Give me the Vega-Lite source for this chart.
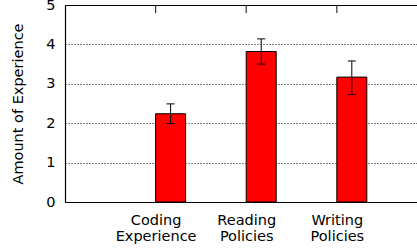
{
  "$schema": "https://vega.github.io/schema/vega-lite/v6.json",
  "autosize": {"type": "none"},
  "padding": {"left": 65, "top": 5, "right": 0, "bottom": 50},
  "width": 352,
  "height": 197,
  "config": {
    "view": {"stroke": null},
    "font": "DejaVu Sans",
    "axis": {
      "labelFont": "DejaVu Sans",
      "titleFont": "DejaVu Sans",
      "labelFontSize": 14.5,
      "titleFontSize": 14.5,
      "titleFontWeight": "normal",
      "labelColor": "#000",
      "titleColor": "#000",
      "domainColor": "#000",
      "domainWidth": 1.2,
      "tickColor": "#000"
    }
  },
  "data": {
    "values": [
      {"idx": 0, "category": "Coding Experience", "mean": 2.24, "lo": 1.99, "hi": 2.49},
      {"idx": 1, "category": "Reading Policies", "mean": 3.82, "lo": 3.5, "hi": 4.14},
      {"idx": 2, "category": "Writing Policies", "mean": 3.17, "lo": 2.73, "hi": 3.58}
    ]
  },
  "layer": [
    {
      "mark": {"type": "bar", "width": 30, "xOffset": 15, "color": "#ff0000", "stroke": "#000", "strokeWidth": 1},
      "encoding": {
        "x": {
          "field": "idx",
          "type": "quantitative",
          "scale": {"domain": [-1, 2.885], "nice": false, "zero": false, "padding": 0},
          "axis": {
            "title": null,
            "values": [0, 1, 2],
            "ticks": false,
            "grid": false,
            "labelPadding": 11,
            "labelLineHeight": 16.5,
            "labelExpr": "datum.value == 0 ? ['Coding', 'Experience'] : datum.value == 1 ? ['Reading', 'Policies'] : ['Writing', 'Policies']"
          }
        },
        "y": {
          "field": "mean",
          "type": "quantitative",
          "scale": {"domain": [0, 5], "nice": false, "padding": 0},
          "axis": {
            "title": "Amount of Experience",
            "values": [0, 1, 2, 3, 4, 5],
            "labelOverlap": false,
            "ticks": false,
            "labelPadding": 10,
            "titlePadding": 20,
            "grid": true,
            "gridColor": "#000",
            "gridDash": [1, 2],
            "gridWidth": 1
          }
        }
      }
    },
    {
      "mark": {"type": "rule", "xOffset": 15, "color": "#000", "strokeWidth": 1},
      "encoding": {
        "x": {"field": "idx", "type": "quantitative", "axis": null},
        "y": {"field": "lo", "type": "quantitative", "axis": null},
        "y2": {"field": "hi"}
      }
    },
    {
      "mark": {"type": "tick", "orient": "horizontal", "xOffset": 15, "size": 8, "thickness": 1, "color": "#000", "opacity": 1},
      "encoding": {
        "x": {
          "field": "idx",
          "type": "quantitative",
          "axis": {
            "orient": "top",
            "labels": false,
            "ticks": false,
            "title": null,
            "grid": false
          }
        },
        "y": {"field": "lo", "type": "quantitative", "axis": null}
      }
    },
    {
      "mark": {"type": "tick", "orient": "horizontal", "xOffset": 15, "size": 8, "thickness": 1, "color": "#000", "opacity": 1},
      "encoding": {
        "y": {"field": "hi", "type": "quantitative", "axis": null},
        "x": {"field": "idx", "type": "quantitative", "axis": null}
      }
    },
    {
      "mark": {"type": "rule", "color": "#333", "strokeWidth": 1.2},
      "encoding": {
        "x": {"field": "idx", "type": "quantitative", "axis": null},
        "y": {"datum": 5, "type": "quantitative", "axis": null},
        "y2": {"datum": 4.8}
      }
    }
  ],
  "resolve": {"axis": {"x": "independent", "y": "independent"}}
}
